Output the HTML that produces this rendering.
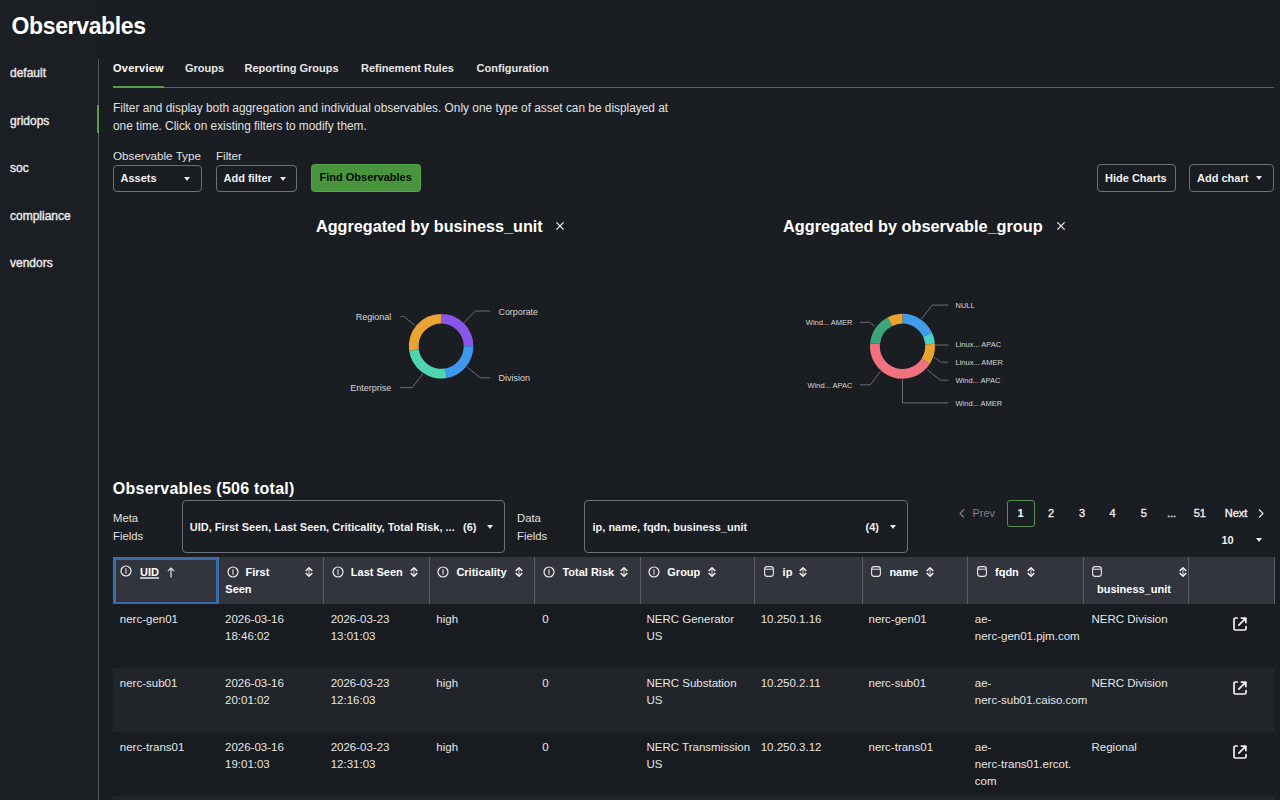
<!DOCTYPE html>
<html><head><meta charset="utf-8">
<style>
*{box-sizing:border-box;margin:0;padding:0}
html,body{width:1280px;height:800px;overflow:hidden;background:#1a1d21;font-family:"Liberation Sans",sans-serif;color:#e6e6e6}
.a{position:absolute;white-space:nowrap;line-height:1}
.b{font-weight:bold}
.r{position:absolute}
.dd{position:absolute;border:1px solid #6e7176;border-radius:4px}
.caret{position:absolute;width:0;height:0;border-left:3.5px solid transparent;border-right:3.5px solid transparent;border-top:4px solid #e8e8e8}
svg{position:absolute;overflow:visible}
</style></head><body>
<div class="r" style="left:0;top:0;width:98px;height:800px;background:#1b1e22"></div>
<div class="r" style="left:98px;top:59px;width:1px;height:741px;background:#55585d"></div>
<div class="r" style="left:97px;top:105px;width:2px;height:27.5px;background:#5a9c54"></div>
<div class="a b" style="left:11.5px;top:14.93px;font-size:23px;color:#fff;letter-spacing:-0.35px">Observables</div>
<div class="a" style="left:10px;top:67.04px;font-size:12px;color:#e8e8e8;-webkit-text-stroke:0.4px #e8e8e8">default</div>
<div class="a" style="left:10px;top:114.64px;font-size:12px;color:#e8e8e8;-webkit-text-stroke:0.4px #e8e8e8">gridops</div>
<div class="a" style="left:10px;top:162.24px;font-size:12px;color:#e8e8e8;-webkit-text-stroke:0.4px #e8e8e8">soc</div>
<div class="a" style="left:10px;top:209.84px;font-size:12px;color:#e8e8e8;-webkit-text-stroke:0.4px #e8e8e8">compliance</div>
<div class="a" style="left:10px;top:257.44px;font-size:12px;color:#e8e8e8;-webkit-text-stroke:0.4px #e8e8e8">vendors</div>
<div class="r" style="left:113px;top:87px;width:1161px;height:1px;background:#5d6065"></div>
<div class="r" style="left:113px;top:86px;width:51px;height:2px;background:#529d48"></div>
<div class="a b" style="left:113px;top:63.49px;font-size:11px;color:#fff;letter-spacing:0.25px">Overview</div>
<div class="a b" style="left:185px;top:63.49px;font-size:11px;color:#e6e6e6">Groups</div>
<div class="a b" style="left:244.5px;top:63.49px;font-size:11px;color:#e6e6e6">Reporting Groups</div>
<div class="a b" style="left:361px;top:63.49px;font-size:11px;color:#e6e6e6">Refinement Rules</div>
<div class="a b" style="left:476.6px;top:63.49px;font-size:11px;color:#e6e6e6">Configuration</div>
<div class="a" style="left:113px;top:103.36px;font-size:11.86px;color:#e0e0e0">Filter and display both aggregation and individual observables. Only one type of asset can be displayed at</div>
<div class="a" style="left:113px;top:120.96px;font-size:11.86px;color:#e0e0e0">one time. Click on existing filters to modify them.</div>
<div class="a" style="left:113px;top:149.63px;font-size:11.66px;color:#e0e0e0">Observable Type</div>
<div class="a" style="left:216px;top:149.63px;font-size:11.66px;color:#e0e0e0">Filter</div>
<div class="dd" style="left:113px;top:165px;width:89px;height:27px"></div>
<div class="a b" style="left:120.5px;top:173.09px;font-size:11px;color:#f0f0f0">Assets</div>
<div class="caret" style="left:184px;top:176.5px"></div>
<div class="dd" style="left:216px;top:165px;width:81px;height:27px"></div>
<div class="a b" style="left:223.5px;top:173.09px;font-size:11px;color:#f0f0f0">Add filter</div>
<div class="caret" style="left:279.5px;top:176.5px"></div>
<div class="r" style="left:311px;top:164px;width:109.5px;height:27.5px;background:#48953d;border:1px solid #58a64c;border-radius:3.5px"></div>
<div class="a b" style="left:319.5px;top:171.89px;font-size:11px;color:#070b07">Find Observables</div>
<div class="dd" style="left:1097px;top:164px;width:79px;height:27.6px"></div>
<div class="a b" style="left:1105px;top:172.59px;font-size:11px;color:#f0f0f0">Hide Charts</div>
<div class="dd" style="left:1189px;top:164px;width:85px;height:27.6px"></div>
<div class="a b" style="left:1197px;top:172.59px;font-size:11px;color:#f0f0f0">Add chart</div>
<div class="caret" style="left:1255.5px;top:176px"></div>
<div class="a b" style="left:316px;top:218.29px;font-size:16.2px;color:#fff">Aggregated by business_unit</div>
<div class="a b" style="left:783px;top:218.20px;font-size:16.3px;color:#fff">Aggregated by observable_group</div>
<svg style="left:556.1px;top:222.2px" width="8" height="8"><path d="M0.4 0.4L7.6 7.6M7.6 0.4L0.4 7.6" stroke="#ececec" stroke-width="1.3"/></svg>
<svg style="left:1056.8px;top:222.2px" width="8" height="8"><path d="M0.4 0.4L7.6 7.6M7.6 0.4L0.4 7.6" stroke="#ececec" stroke-width="1.3"/></svg>
<svg style="left:0;top:0" width="1280" height="800"><path d="M441.10 313.90A32.3 32.3 0 0 1 473.40 346.20L463.70 346.20A22.6 22.6 0 0 0 441.10 323.60Z" fill="#8a56ea"/><path d="M473.40 346.20A32.3 32.3 0 0 1 446.71 378.01L445.02 368.46A22.6 22.6 0 0 0 463.70 346.20Z" fill="#3e98ef"/><path d="M446.71 378.01A32.3 32.3 0 0 1 409.11 350.70L418.72 349.35A22.6 22.6 0 0 0 445.02 368.46Z" fill="#4fd4b2"/><path d="M409.11 350.70A32.3 32.3 0 0 1 441.10 313.90L441.10 323.60A22.6 22.6 0 0 0 418.72 349.35Z" fill="#e8a535"/><path d="M902.50 313.80A32.5 32.5 0 0 1 931.96 332.56L923.07 336.71A22.7 22.7 0 0 0 902.50 323.60Z" fill="#3f9de9"/><path d="M931.96 332.56A32.5 32.5 0 0 1 934.90 343.75L925.13 344.52A22.7 22.7 0 0 0 923.07 336.71Z" fill="#4dcfca"/><path d="M934.90 343.75A32.5 32.5 0 0 1 929.76 364.00L921.54 358.66A22.7 22.7 0 0 0 925.13 344.52Z" fill="#e8a42f"/><path d="M929.76 364.00A32.5 32.5 0 0 1 870.15 343.19L879.90 344.12A22.7 22.7 0 0 0 921.54 358.66Z" fill="#f1717f"/><path d="M870.15 343.19A32.5 32.5 0 0 1 887.59 317.42L892.09 326.13A22.7 22.7 0 0 0 879.90 344.12Z" fill="#3ca67a"/><path d="M887.59 317.42A32.5 32.5 0 0 1 902.50 313.80L902.50 323.60A22.7 22.7 0 0 0 892.09 326.13Z" fill="#e8a42f"/><path d="M463.9 322.8L475.4 311L490.1 311" fill="none" stroke="#6b6e73" stroke-width="1"/><path d="M467.2 367.1L480.3 377.8L490.1 377.8" fill="none" stroke="#6b6e73" stroke-width="1"/><path d="M414.7 325.3L404 316.5L400.5 316.5" fill="none" stroke="#6b6e73" stroke-width="1"/><path d="M422.9 373.7L412.2 387.6L400.4 387.6" fill="none" stroke="#6b6e73" stroke-width="1"/><path d="M921.4 319.2L932.1 305.1L948.5 305.1" fill="none" stroke="#6b6e73" stroke-width="1"/><path d="M934.9 345L948.5 345" fill="none" stroke="#6b6e73" stroke-width="1"/><path d="M934.2 357.3L941.1 362.2L948.5 362.2" fill="none" stroke="#6b6e73" stroke-width="1"/><path d="M927.2 369.6L940.3 380.2L948.5 380.2" fill="none" stroke="#6b6e73" stroke-width="1"/><path d="M902.5 379.4L902.5 402.9L948.5 402.9" fill="none" stroke="#6b6e73" stroke-width="1"/><path d="M874.7 326.4L869.7 322.3L859.9 322.3" fill="none" stroke="#6b6e73" stroke-width="1"/><path d="M880.4 371.7L870.2 384.8L859.9 384.8" fill="none" stroke="#6b6e73" stroke-width="1"/></svg>
<div class="a" style="left:498.5px;top:308.07px;font-size:8.9px;color:#d6d6d6">Corporate</div>
<div class="a" style="left:498.5px;top:374.38px;font-size:9px;color:#d6d6d6">Division</div>
<div class="a" style="right:888.80px;top:313.18px;font-size:9px;color:#d6d6d6">Regional</div>
<div class="a" style="right:888.80px;top:384.48px;font-size:9px;color:#d6d6d6">Enterprise</div>
<div class="a" style="left:955.5px;top:301.85px;font-size:7.5px;color:#d6d6d6">NULL</div>
<div class="a" style="left:955.5px;top:341.45px;font-size:7.5px;color:#d6d6d6">Linux... APAC</div>
<div class="a" style="left:955.5px;top:359.05px;font-size:7.5px;color:#d6d6d6">Linux... AMER</div>
<div class="a" style="left:955.5px;top:377.35px;font-size:7.5px;color:#d6d6d6">Wind... APAC</div>
<div class="a" style="left:955.5px;top:399.55px;font-size:7.5px;color:#d6d6d6">Wind... AMER</div>
<div class="a" style="right:427.50px;top:318.95px;font-size:7.5px;color:#d6d6d6">Wind... AMER</div>
<div class="a" style="right:427.50px;top:381.55px;font-size:7.5px;color:#d6d6d6">Wind... APAC</div>
<div class="a b" style="left:112.8px;top:480.66px;font-size:16px;color:#fff;letter-spacing:0.25px">Observables (506 total)</div>
<div class="a" style="left:113px;top:512.83px;font-size:11.3px;color:#e0e0e0">Meta</div>
<div class="a" style="left:113px;top:530.83px;font-size:11.3px;color:#e0e0e0">Fields</div>
<div class="dd" style="left:182px;top:499.5px;width:323px;height:53px"></div>
<div class="a b" style="left:189.8px;top:522.19px;font-size:11px;color:#f0f0f0">UID, First Seen, Last Seen, Criticality, Total Risk, ...</div>
<div class="a b" style="left:463px;top:522.19px;font-size:11px;color:#f0f0f0">(6)</div>
<div class="caret" style="left:487px;top:525px"></div>
<div class="a" style="left:517px;top:512.83px;font-size:11.3px;color:#e0e0e0">Data</div>
<div class="a" style="left:517px;top:530.83px;font-size:11.3px;color:#e0e0e0">Fields</div>
<div class="dd" style="left:584px;top:499.5px;width:323.5px;height:53px"></div>
<div class="a b" style="left:592.5px;top:522.19px;font-size:11px;color:#f0f0f0">ip, name, fqdn, business_unit</div>
<div class="a b" style="left:865.5px;top:522.19px;font-size:11px;color:#f0f0f0">(4)</div>
<div class="caret" style="left:889.5px;top:525px"></div>
<svg style="left:959px;top:509px" width="6" height="9"><path d="M5 0.5L1 4.5L5 8.5" fill="none" stroke="#7f8286" stroke-width="1.2"/></svg>
<div class="a" style="left:972.4px;top:508.49px;font-size:11px;color:#7f8286">Prev</div>
<div class="r" style="left:1006.5px;top:500px;width:28px;height:27px;border:1px solid #5a9254;border-radius:3px"></div>
<div class="a b" style="left:1020.5px;top:508.49px;font-size:11px;color:#fff;transform:translateX(-50%)">1</div>
<div class="a" style="left:1051px;top:508.49px;font-size:11px;color:#ececec;transform:translateX(-50%);-webkit-text-stroke:0.35px #ececec">2</div>
<div class="a" style="left:1082px;top:508.49px;font-size:11px;color:#ececec;transform:translateX(-50%);-webkit-text-stroke:0.35px #ececec">3</div>
<div class="a" style="left:1112.6px;top:508.49px;font-size:11px;color:#ececec;transform:translateX(-50%);-webkit-text-stroke:0.35px #ececec">4</div>
<div class="a" style="left:1143.7px;top:508.49px;font-size:11px;color:#ececec;transform:translateX(-50%);-webkit-text-stroke:0.35px #ececec">5</div>
<div class="a" style="left:1171.6px;top:508.49px;font-size:11px;color:#ececec;transform:translateX(-50%);-webkit-text-stroke:0.35px #ececec">...</div>
<div class="a" style="left:1199.8px;top:508.49px;font-size:11px;color:#ececec;transform:translateX(-50%);-webkit-text-stroke:0.35px #ececec">51</div>
<div class="a" style="left:1224.7px;top:508.49px;font-size:11px;color:#f0f0f0;-webkit-text-stroke:0.35px #f0f0f0">Next</div>
<svg style="left:1257.5px;top:509px" width="6" height="9"><path d="M1 0.5L5 4.5L1 8.5" fill="none" stroke="#e6e6e6" stroke-width="1.2"/></svg>
<div class="a b" style="left:1221.5px;top:535.09px;font-size:11px;color:#f0f0f0">10</div>
<div class="caret" style="left:1256px;top:538px"></div>
<div class="r" style="left:113px;top:557px;width:1161px;height:47px;background:#32353d"></div>
<div class="r" style="left:217.5px;top:557px;width:1px;height:47px;background:#5d6066"></div>
<div class="r" style="left:323.0px;top:557px;width:1px;height:47px;background:#5d6066"></div>
<div class="r" style="left:428.5px;top:557px;width:1px;height:47px;background:#5d6066"></div>
<div class="r" style="left:534.0px;top:557px;width:1px;height:47px;background:#5d6066"></div>
<div class="r" style="left:639.5px;top:557px;width:1px;height:47px;background:#5d6066"></div>
<div class="r" style="left:753.5px;top:557px;width:1px;height:47px;background:#5d6066"></div>
<div class="r" style="left:862.0px;top:557px;width:1px;height:47px;background:#5d6066"></div>
<div class="r" style="left:967.0px;top:557px;width:1px;height:47px;background:#5d6066"></div>
<div class="r" style="left:1083.0px;top:557px;width:1px;height:47px;background:#5d6066"></div>
<div class="r" style="left:1188.0px;top:557px;width:1px;height:47px;background:#5d6066"></div>
<div class="r" style="left:1273.5px;top:557px;width:1px;height:47px;background:#5d6066"></div>
<div class="r" style="left:112.5px;top:557px;width:106px;height:47.5px;border:3px solid #3b6da9"></div>
<div class="r" style="left:113px;top:604px;width:1161px;height:64px;background:#181b1f"></div>
<div class="r" style="left:113px;top:668px;width:1161px;height:64px;background:#212428"></div>
<div class="r" style="left:113px;top:732px;width:1161px;height:64px;background:#181b1f"></div>
<div class="r" style="left:113px;top:796px;width:1161px;height:64px;background:#212428"></div>
<svg style="left:120.4px;top:565.4px" width="12" height="12"><circle cx="6" cy="6" r="5" fill="none" stroke="#f2f2f2" stroke-width="1.2"/><path d="M6 3.3V8.7" stroke="#e4e4e4" stroke-width="1.1"/></svg>
<div class="a b" style="left:140.1px;top:567.19px;font-size:11px;color:#fff;text-decoration:underline;text-underline-offset:0.5px;text-decoration-color:#b9bcc2;text-decoration-thickness:1.5px">UID</div>
<svg style="left:167px;top:567px" width="8" height="11"><path d="M4 10.5V1M0.8 4.2L4 1L7.2 4.2" fill="none" stroke="#e6e6e6" stroke-width="1.2"/></svg>
<svg style="left:226.7px;top:565.5px" width="12" height="12"><circle cx="6" cy="6" r="5" fill="none" stroke="#f2f2f2" stroke-width="1.2"/><path d="M6 3.3V8.7" stroke="#e4e4e4" stroke-width="1.1"/></svg>
<div class="a b" style="left:245.5px;top:567.19px;font-size:11px;color:#fff">First</div>
<svg style="left:305.4px;top:567px" width="8" height="10"><path d="M4 1V9" stroke="#d8d8d8" stroke-width="1"/><path d="M0.7 4L4 0.9L7.3 4M0.7 6L4 9.1L7.3 6" fill="none" stroke="#f0f0f0" stroke-width="1.5" stroke-linejoin="round"/></svg>
<div class="a b" style="left:225.3px;top:583.69px;font-size:11px;color:#fff">Seen</div>
<svg style="left:331.7px;top:565.5px" width="12" height="12"><circle cx="6" cy="6" r="5" fill="none" stroke="#f2f2f2" stroke-width="1.2"/><path d="M6 3.3V8.7" stroke="#e4e4e4" stroke-width="1.1"/></svg>
<div class="a b" style="left:350.8px;top:567.19px;font-size:11px;color:#fff">Last Seen</div>
<svg style="left:410.4px;top:567px" width="8" height="10"><path d="M4 1V9" stroke="#d8d8d8" stroke-width="1"/><path d="M0.7 4L4 0.9L7.3 4M0.7 6L4 9.1L7.3 6" fill="none" stroke="#f0f0f0" stroke-width="1.5" stroke-linejoin="round"/></svg>
<svg style="left:436.9px;top:565.5px" width="12" height="12"><circle cx="6" cy="6" r="5" fill="none" stroke="#f2f2f2" stroke-width="1.2"/><path d="M6 3.3V8.7" stroke="#e4e4e4" stroke-width="1.1"/></svg>
<div class="a b" style="left:456.4px;top:567.19px;font-size:11px;color:#fff">Criticality</div>
<svg style="left:514.6px;top:567px" width="8" height="10"><path d="M4 1V9" stroke="#d8d8d8" stroke-width="1"/><path d="M0.7 4L4 0.9L7.3 4M0.7 6L4 9.1L7.3 6" fill="none" stroke="#f0f0f0" stroke-width="1.5" stroke-linejoin="round"/></svg>
<svg style="left:542.5px;top:565.5px" width="12" height="12"><circle cx="6" cy="6" r="5" fill="none" stroke="#f2f2f2" stroke-width="1.2"/><path d="M6 3.3V8.7" stroke="#e4e4e4" stroke-width="1.1"/></svg>
<div class="a b" style="left:562.4px;top:567.19px;font-size:11px;color:#fff">Total Risk</div>
<svg style="left:620.2px;top:567px" width="8" height="10"><path d="M4 1V9" stroke="#d8d8d8" stroke-width="1"/><path d="M0.7 4L4 0.9L7.3 4M0.7 6L4 9.1L7.3 6" fill="none" stroke="#f0f0f0" stroke-width="1.5" stroke-linejoin="round"/></svg>
<svg style="left:648.2px;top:565.5px" width="12" height="12"><circle cx="6" cy="6" r="5" fill="none" stroke="#f2f2f2" stroke-width="1.2"/><path d="M6 3.3V8.7" stroke="#e4e4e4" stroke-width="1.1"/></svg>
<div class="a b" style="left:667.3px;top:567.19px;font-size:11px;color:#fff">Group</div>
<svg style="left:708.2px;top:567px" width="8" height="10"><path d="M4 1V9" stroke="#d8d8d8" stroke-width="1"/><path d="M0.7 4L4 0.9L7.3 4M0.7 6L4 9.1L7.3 6" fill="none" stroke="#f0f0f0" stroke-width="1.5" stroke-linejoin="round"/></svg>
<svg style="left:763.8px;top:566px" width="10" height="11"><rect x="0.6" y="0.6" width="8.8" height="9.8" rx="2.6" fill="none" stroke="#e6e6e6" stroke-width="1.1"/><path d="M0.8 3.2H9.2" stroke="#e6e6e6" stroke-width="1"/></svg>
<div class="a b" style="left:782.6px;top:567.19px;font-size:11px;color:#fff">ip</div>
<svg style="left:798.6px;top:567px" width="8" height="10"><path d="M4 1V9" stroke="#d8d8d8" stroke-width="1"/><path d="M0.7 4L4 0.9L7.3 4M0.7 6L4 9.1L7.3 6" fill="none" stroke="#f0f0f0" stroke-width="1.5" stroke-linejoin="round"/></svg>
<svg style="left:870.7px;top:566px" width="10" height="11"><rect x="0.6" y="0.6" width="8.8" height="9.8" rx="2.6" fill="none" stroke="#e6e6e6" stroke-width="1.1"/><path d="M0.8 3.2H9.2" stroke="#e6e6e6" stroke-width="1"/></svg>
<div class="a b" style="left:889.4px;top:567.19px;font-size:11px;color:#fff">name</div>
<svg style="left:925.6px;top:567px" width="8" height="10"><path d="M4 1V9" stroke="#d8d8d8" stroke-width="1"/><path d="M0.7 4L4 0.9L7.3 4M0.7 6L4 9.1L7.3 6" fill="none" stroke="#f0f0f0" stroke-width="1.5" stroke-linejoin="round"/></svg>
<svg style="left:976.7px;top:566px" width="10" height="11"><rect x="0.6" y="0.6" width="8.8" height="9.8" rx="2.6" fill="none" stroke="#e6e6e6" stroke-width="1.1"/><path d="M0.8 3.2H9.2" stroke="#e6e6e6" stroke-width="1"/></svg>
<div class="a b" style="left:995px;top:567.19px;font-size:11px;color:#fff">fqdn</div>
<svg style="left:1026.6px;top:567px" width="8" height="10"><path d="M4 1V9" stroke="#d8d8d8" stroke-width="1"/><path d="M0.7 4L4 0.9L7.3 4M0.7 6L4 9.1L7.3 6" fill="none" stroke="#f0f0f0" stroke-width="1.5" stroke-linejoin="round"/></svg>
<svg style="left:1092.4px;top:566px" width="10" height="11"><rect x="0.6" y="0.6" width="8.8" height="9.8" rx="2.6" fill="none" stroke="#e6e6e6" stroke-width="1.1"/><path d="M0.8 3.2H9.2" stroke="#e6e6e6" stroke-width="1"/></svg>
<svg style="left:1178.7px;top:567px" width="8" height="10"><path d="M4 1V9" stroke="#d8d8d8" stroke-width="1"/><path d="M0.7 4L4 0.9L7.3 4M0.7 6L4 9.1L7.3 6" fill="none" stroke="#f0f0f0" stroke-width="1.5" stroke-linejoin="round"/></svg>
<div class="a b" style="left:1097px;top:583.69px;font-size:11px;color:#fff">business_unit</div>
<div class="a" style="left:119.8px;top:613.97px;font-size:11.5px;color:#e6e6e6">nerc-gen01</div>
<div class="a" style="left:225px;top:613.97px;font-size:11.5px;color:#e6e6e6">2026-03-16</div>
<div class="a" style="left:225px;top:630.97px;font-size:11.5px;color:#e6e6e6">18:46:02</div>
<div class="a" style="left:330.7px;top:613.97px;font-size:11.5px;color:#e6e6e6">2026-03-23</div>
<div class="a" style="left:330.7px;top:630.97px;font-size:11.5px;color:#e6e6e6">13:01:03</div>
<div class="a" style="left:436.3px;top:613.97px;font-size:11.5px;color:#e6e6e6">high</div>
<div class="a" style="left:542.3px;top:613.97px;font-size:11.5px;color:#e6e6e6">0</div>
<div class="a" style="left:646.5px;top:613.97px;font-size:11.5px;color:#e6e6e6">NERC Generator</div>
<div class="a" style="left:646.5px;top:630.97px;font-size:11.5px;color:#e6e6e6">US</div>
<div class="a" style="left:760.7px;top:613.97px;font-size:11.5px;color:#e6e6e6">10.250.1.16</div>
<div class="a" style="left:868.5px;top:613.97px;font-size:11.5px;color:#e6e6e6">nerc-gen01</div>
<div class="a" style="left:974.8px;top:613.97px;font-size:11.5px;color:#e6e6e6">ae-</div>
<div class="a" style="left:974.8px;top:630.97px;font-size:11.5px;color:#e6e6e6">nerc-gen01.pjm.com</div>
<div class="a" style="left:1091.5px;top:613.97px;font-size:11.5px;color:#e6e6e6">NERC Division</div>
<svg style="left:1232.8px;top:617.4px" width="14" height="14"><path d="M4.2 1H2.3Q1 1 1 2.3V11.7Q1 13 2.3 13H11.7Q13 13 13 11.7V9.6" fill="none" stroke="#f2f2f2" stroke-width="1.7" stroke-linecap="round"/><path d="M5.8 8.2L12.6 1.4M8.4 1.1H12.9V5.6" fill="none" stroke="#f2f2f2" stroke-width="1.7" stroke-linecap="round" stroke-linejoin="round"/></svg>
<div class="a" style="left:119.8px;top:677.97px;font-size:11.5px;color:#e6e6e6">nerc-sub01</div>
<div class="a" style="left:225px;top:677.97px;font-size:11.5px;color:#e6e6e6">2026-03-16</div>
<div class="a" style="left:225px;top:694.97px;font-size:11.5px;color:#e6e6e6">20:01:02</div>
<div class="a" style="left:330.7px;top:677.97px;font-size:11.5px;color:#e6e6e6">2026-03-23</div>
<div class="a" style="left:330.7px;top:694.97px;font-size:11.5px;color:#e6e6e6">12:16:03</div>
<div class="a" style="left:436.3px;top:677.97px;font-size:11.5px;color:#e6e6e6">high</div>
<div class="a" style="left:542.3px;top:677.97px;font-size:11.5px;color:#e6e6e6">0</div>
<div class="a" style="left:646.5px;top:677.97px;font-size:11.5px;color:#e6e6e6">NERC Substation</div>
<div class="a" style="left:646.5px;top:694.97px;font-size:11.5px;color:#e6e6e6">US</div>
<div class="a" style="left:760.7px;top:677.97px;font-size:11.5px;color:#e6e6e6">10.250.2.11</div>
<div class="a" style="left:868.5px;top:677.97px;font-size:11.5px;color:#e6e6e6">nerc-sub01</div>
<div class="a" style="left:974.8px;top:677.97px;font-size:11.5px;color:#e6e6e6">ae-</div>
<div class="a" style="left:974.8px;top:694.97px;font-size:11.5px;color:#e6e6e6">nerc-sub01.caiso.com</div>
<div class="a" style="left:1091.5px;top:677.97px;font-size:11.5px;color:#e6e6e6">NERC Division</div>
<svg style="left:1232.8px;top:681.4px" width="14" height="14"><path d="M4.2 1H2.3Q1 1 1 2.3V11.7Q1 13 2.3 13H11.7Q13 13 13 11.7V9.6" fill="none" stroke="#f2f2f2" stroke-width="1.7" stroke-linecap="round"/><path d="M5.8 8.2L12.6 1.4M8.4 1.1H12.9V5.6" fill="none" stroke="#f2f2f2" stroke-width="1.7" stroke-linecap="round" stroke-linejoin="round"/></svg>
<div class="a" style="left:119.8px;top:741.97px;font-size:11.5px;color:#e6e6e6">nerc-trans01</div>
<div class="a" style="left:225px;top:741.97px;font-size:11.5px;color:#e6e6e6">2026-03-16</div>
<div class="a" style="left:225px;top:758.97px;font-size:11.5px;color:#e6e6e6">19:01:03</div>
<div class="a" style="left:330.7px;top:741.97px;font-size:11.5px;color:#e6e6e6">2026-03-23</div>
<div class="a" style="left:330.7px;top:758.97px;font-size:11.5px;color:#e6e6e6">12:31:03</div>
<div class="a" style="left:436.3px;top:741.97px;font-size:11.5px;color:#e6e6e6">high</div>
<div class="a" style="left:542.3px;top:741.97px;font-size:11.5px;color:#e6e6e6">0</div>
<div class="a" style="left:646.5px;top:741.97px;font-size:11.5px;color:#e6e6e6">NERC Transmission</div>
<div class="a" style="left:646.5px;top:758.97px;font-size:11.5px;color:#e6e6e6">US</div>
<div class="a" style="left:760.7px;top:741.97px;font-size:11.5px;color:#e6e6e6">10.250.3.12</div>
<div class="a" style="left:868.5px;top:741.97px;font-size:11.5px;color:#e6e6e6">nerc-trans01</div>
<div class="a" style="left:974.8px;top:741.97px;font-size:11.5px;color:#e6e6e6">ae-</div>
<div class="a" style="left:974.8px;top:758.97px;font-size:11.5px;color:#e6e6e6">nerc-trans01.ercot.</div>
<div class="a" style="left:974.8px;top:775.97px;font-size:11.5px;color:#e6e6e6">com</div>
<div class="a" style="left:1091.5px;top:741.97px;font-size:11.5px;color:#e6e6e6">Regional</div>
<svg style="left:1232.8px;top:745.4px" width="14" height="14"><path d="M4.2 1H2.3Q1 1 1 2.3V11.7Q1 13 2.3 13H11.7Q13 13 13 11.7V9.6" fill="none" stroke="#f2f2f2" stroke-width="1.7" stroke-linecap="round"/><path d="M5.8 8.2L12.6 1.4M8.4 1.1H12.9V5.6" fill="none" stroke="#f2f2f2" stroke-width="1.7" stroke-linecap="round" stroke-linejoin="round"/></svg>
</body></html>
